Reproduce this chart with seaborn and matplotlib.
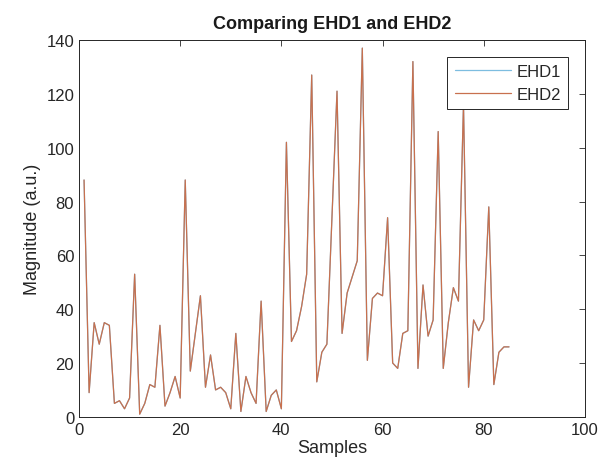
import numpy as np
import pandas as pd
import matplotlib
matplotlib.use('Agg')
import matplotlib.pyplot as plt
import seaborn as sns

# values (both series overlap exactly)
samples = list(range(1, 86))
ehd1 = [88, 9, 35, 27, 35, 34, 5, 6, 3, 7,
        53, 1, 5, 12, 11, 34, 4, 9, 15, 7,
        88, 17, 31, 45, 11, 23, 10, 11, 9, 3,
        31, 2, 15, 9, 5, 43, 2, 8, 10, 3,
        102, 28, 32, 41, 53, 127, 13, 24, 27, 74,
        121, 31, 46, 52, 58, 137, 21, 44, 46, 45,
        74, 20, 18, 31, 32, 132, 18, 49, 30, 36,
        106, 18, 35, 48, 43, 116, 11, 36, 32, 36,
        78, 12, 24, 26, 26]
ehd2 = list(ehd1)
series_names = ["EHD1", "EHD2"]
colors = ["#7dbde0", "#c8704e"]

df = pd.DataFrame({
    "Samples": samples * 2,
    "Magnitude": ehd1 + ehd2,
    "Series": [series_names[0]] * len(samples) + [series_names[1]] * len(samples),
})

sns.set_style("white")
plt.rcParams['font.family'] = ['Liberation Sans', 'DejaVu Sans']

fig = plt.figure(figsize=(6.03, 4.77), dpi=100)
ax = fig.add_axes([0.131, 0.124, 0.839, 0.790])

sns.lineplot(data=df, x="Samples", y="Magnitude", hue="Series",
             palette=dict(zip(series_names, colors)), linewidth=0.9, ax=ax)

ax.set_xlim(0, 100)
ax.set_ylim(0, 140)
ax.set_xticks(np.arange(0, 101, 20))
ax.set_yticks(np.arange(0, 141, 20))
ax.tick_params(direction='in', length=4, top=True, right=True,
               labelsize=12, colors='#262626', width=0.6)
for s in ax.spines.values():
    s.set_color('#262626')
    s.set_linewidth(0.7)

ax.set_xlabel("Samples", fontsize=13, color='#262626', labelpad=2)
ax.set_ylabel("Magnitude (a.u.)", fontsize=13, color='#262626')
ax.set_title("Comparing EHD1 and EHD2", fontsize=13, fontweight='bold',
             color='#1a1a1a', pad=9)

leg = ax.legend(title=None, loc='upper right', fontsize=12, fancybox=False,
                framealpha=1, edgecolor='#262626', handlelength=3.4,
                handletextpad=0.3, borderpad=0.45, labelspacing=0.45,
                borderaxespad=1.0)
leg.get_frame().set_linewidth(0.7)

fig.savefig("out.png", dpi=100)
